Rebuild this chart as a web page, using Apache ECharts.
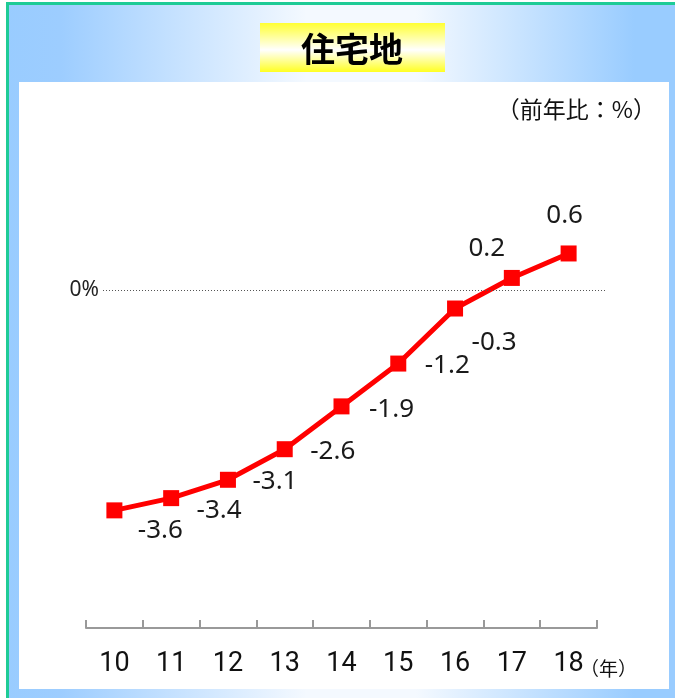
<!DOCTYPE html>
<html>
<head>
<meta charset="utf-8">
<script src="https://cdn.jsdelivr.net/npm/echarts@6/dist/echarts.min.js"></script>
<style>
html,body{margin:0;padding:0;background:#fff;}
#chart{width:675px;height:698px;}
</style>
</head>
<body>
<div id="chart"></div>
<script>
// ---- data ----
const years = ['10', '11', '12', '13', '14', '15', '16', '17', '18'];
const values = [-3.6, -3.4, -3.1, -2.6, -1.9, -1.2, -0.3, 0.2, 0.6];
const labelOffsets = [[46, 20], [48, 12], [47, 2], [48, 2], [50, 3], [49, 2], [39, 34], [-25, -29], [-4, -38]];
const chartTitle = '住宅地';
const unitText = '（前年比：%）';
const yearUnit = '（年）';
const zeroLabel = '0%';

const chart = echarts.init(document.getElementById('chart'), null, {renderer: 'canvas'});

const seriesData = values.map((v, i) => ({
  value: v,
  label: {offset: labelOffsets[i]}
}));

const zeroLabelStyle = {show: true, position: 'start', formatter: zeroLabel, color: '#222', fontSize: 21, fontFamily: 'Noto Sans', distance: 4};

const option = {
  animation: false,
  graphic: [
    {
      type: 'rect', z: -10, silent: true,
      shape: {x: 7.5, y: 3.5, width: 680, height: 700},
      style: {
        fill: new echarts.graphic.LinearGradient(0, 0, 1, 0, [
          {offset: 0, color: '#99ccff'},
          {offset: 0.08, color: '#9dcdff'},
          {offset: 0.44, color: '#f4f9ff'},
          {offset: 0.6, color: '#f4f9ff'},
          {offset: 0.92, color: '#99ccff'},
          {offset: 1, color: '#99ccff'}
        ]),
        stroke: '#1ecb96', lineWidth: 3
      }
    },
    {
      type: 'rect', z: -9, silent: true,
      shape: {x: 19, y: 82, width: 650, height: 607},
      style: {fill: '#ffffff'}
    },
    {
      type: 'rect', z: -8, silent: true,
      shape: {x: 260, y: 23, width: 185, height: 49},
      style: {
        fill: new echarts.graphic.LinearGradient(0, 0, 0, 1, [
          {offset: 0, color: '#ffff33'},
          {offset: 0.55, color: '#ffffff'},
          {offset: 1, color: '#ffff22'}
        ])
      }
    },
    {
      type: 'text', z: 10,
      x: 352, y: 49,
      style: {
        text: chartTitle, fill: '#000', align: 'center', verticalAlign: 'middle',
        fontSize: 34, fontWeight: 'bold', fontFamily: 'Noto Sans CJK JP'
      }
    },
    {
      type: 'text', z: 10,
      x: 656, y: 109,
      style: {
        text: unitText, fill: '#111', align: 'right', verticalAlign: 'middle',
        fontSize: 23, fontFamily: 'Noto Sans CJK JP'
      }
    },
    {
      type: 'text', z: 10,
      x: 580, y: 669,
      style: {
        text: yearUnit, fill: '#111', align: 'left', verticalAlign: 'middle',
        fontSize: 19, fontFamily: 'Noto Sans CJK JP'
      }
    }
  ],
  grid: {left: 86, right: 78, top: 229, bottom: 102},
  xAxis: {
    type: 'category',
    data: years,
    boundaryGap: true,
    offset: 32,
    axisLine: {show: true, onZero: false, lineStyle: {color: '#999', width: 2}},
    axisTick: {show: true, inside: true, length: 8, lineStyle: {color: '#999', width: 2}},
    axisLabel: {color: '#111', fontSize: 27, fontFamily: 'Roboto', margin: 23},
    splitLine: {show: false}
  },
  yAxis: {
    type: 'value',
    min: -5, max: 1,
    show: false,
    splitLine: {show: false}
  },
  series: [{
    type: 'line',
    data: seriesData,
    symbol: 'rect',
    symbolSize: 16,
    lineStyle: {color: '#ff0000', width: 5},
    itemStyle: {color: '#ff0000'},
    label: {
      show: true,
      position: 'inside',
      color: '#1a1a1a',
      fontSize: 26,
      fontFamily: 'Noto Sans'
    },
    markLine: {
      silent: true,
      symbol: 'none',
      lineStyle: {type: [1, 2], color: '#555', width: 1},
      label: zeroLabelStyle,
      data: [[{xAxis: 0, yAxis: 0, x: 103, label: zeroLabelStyle}, {xAxis: 8, yAxis: 0, x: 607}]]
    }
  }]
};
chart.setOption(option);
</script>
</body>
</html>
